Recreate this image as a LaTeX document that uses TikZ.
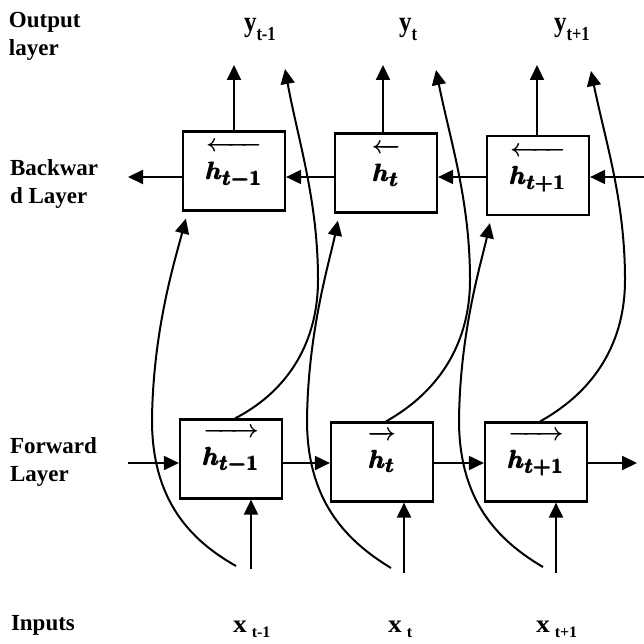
\documentclass[tikz,border=0pt]{standalone}
\usepackage{fontspec}
\setmainfont{Liberation Serif}
\usepackage{amsmath}
\usepackage{graphicx}
\usetikzlibrary{arrows.meta,calc}
\newcommand{\myYlab}[1]{\scalebox{1}[1.15]{\fontsize{25}{28}\selectfont\bfseries y}\raisebox{-9pt}{\scalebox{1}[1.2]{\fontsize{16.5}{18}\selectfont\bfseries #1}}}
\newcommand{\myXlab}[1]{\scalebox{1.1}[1]{\fontsize{25}{28}\selectfont\bfseries x}\hspace{5pt}\raisebox{-5pt}{\fontsize{16}{18}\selectfont\bfseries #1}}
\newcommand{\myH}[2]{#1{\rule{0pt}{28pt}\pmb{h}_{\pmb{#2}}}}
\begin{document}
\begin{tikzpicture}[x=1pt,y=-1pt,
  line width=2pt,
  arr/.style={-{Triangle[length=15pt,width=14pt]}},
  cell/.style={draw,line width=2.2pt,minimum width=102pt,minimum height=79pt,inner sep=0pt,
    font=\fontsize{30}{32}\selectfont\boldmath},
  bwd/.style={cell,text height=18pt,text depth=0pt},
  fwd/.style={cell,text height=12pt,text depth=0pt},
  side/.style={font=\fontsize{23}{28}\selectfont\bfseries,align=left,inner sep=0pt,anchor=north west},
  lab/.style={inner sep=0pt,anchor=base west}
 ]
\useasboundingbox (0,0) rectangle (643,644);

% side labels
\node[side] (lo) at (8,11.5) {Output\\layer};
\node[side] (lb) at (9,158.5) {Backwar\\d Layer};
\node[side] (lf) at (9,436.5) {Forward\\Layer};
\node[lab,font=\fontsize{23}{28}\selectfont\bfseries] (li) at (10,630) {Inputs};

% output labels
\node[lab] (y1) at (243,31.7) {\myYlab{t-1}};
\node[lab] (y2) at (398,31.7) {\myYlab{t}};
\node[lab] (y3) at (553,31.7) {\myYlab{t+1}};

% input labels
\node[lab] (x1) at (232,632) {\myXlab{t-1}};
\node[lab] (x2) at (387,632) {\myXlab{t}};
\node[lab] (x3) at (535,632) {\myXlab{t+1}};

% backward boxes
\node[bwd] (bb1) at (234,171) {$\myH{\overleftarrow}{t-1}$};
\node[bwd] (bb2) at (386,173) {$\myH{\overleftarrow}{t}$};
\node[bwd] (bb3) at (538,175.5) {$\myH{\overleftarrow}{t+1}$};
% forward boxes
\node[fwd] (fb1) at (231,459) {$\myH{\overrightarrow}{t-1}$};
\node[fwd] (fb2) at (382,462) {$\myH{\overrightarrow}{t}$};
\node[fwd] (fb3) at (536,462) {$\myH{\overrightarrow}{t+1}$};

% helper coordinates
\coordinate (hb) at (0,177);
\coordinate (hf) at (0,463);
\coordinate (bin) at (650,177);
\coordinate (bout) at (128,177);
\coordinate (fin) at (128,463);
\coordinate (fout) at (637,463);
\coordinate (o1) at (234,65);
\coordinate (o2) at (383,65);
\coordinate (o3) at (537,65);
\coordinate (s1) at (285,69);
\coordinate (s2) at (436,70);
\coordinate (s3) at (591,71);
\coordinate (i1) at (251,569);
\coordinate (i2) at (404,573);
\coordinate (i3) at (556,573);
\coordinate (c1) at (236,566);
\coordinate (c2) at (391,568);
\coordinate (c3) at (543,567);

% backward chain
\draw[arr] (bin) -- (bb3.east |- hb);
\draw[arr] (bb3.west |- hb) -- (bb2.east |- hb);
\draw[arr] (bb2.west |- hb) -- (bb1.east |- hb);
\draw[arr] (bb1.west |- hb) -- (bout);

% forward chain
\draw[arr] (fin) -- (fb1.west |- hf);
\draw[arr] (fb1.east |- hf) -- (fb2.west |- hf);
\draw[arr] (fb2.east |- hf) -- (fb3.west |- hf);
\draw[arr] (fb3.east |- hf) -- (fout);

% outputs from backward boxes, inputs to forward boxes
\foreach \k in {1,2,3}{
  \draw[arr] (bb\k.north -| o\k) -- (o\k);
  \draw[arr] (i\k) -- (fb\k.south -| i\k);
}

% forward boxes to outputs
\foreach \k/\dx in {1/0,2/152,3/307}{
  \draw[arr] ($(fb\k.north)+(4,0)$) .. controls ({290+\dx},390) and ({318+\dx},340) .. ({318+\dx},280)
     .. controls ({318+\dx},200) and ({298+\dx},140) .. (s\k);
}

% inputs to backward boxes
\foreach \k/\dx in {1/0,2/155,3/307}{
  \draw[arr] (c\k) .. controls ({190+\dx},540) and ({152+\dx},500) .. ({152+\dx},420)
     .. controls ({153+\dx},330) and ({175+\dx},260) .. ($(bb\k.south west)+(4,7)$);
}
\end{tikzpicture}
\end{document}
